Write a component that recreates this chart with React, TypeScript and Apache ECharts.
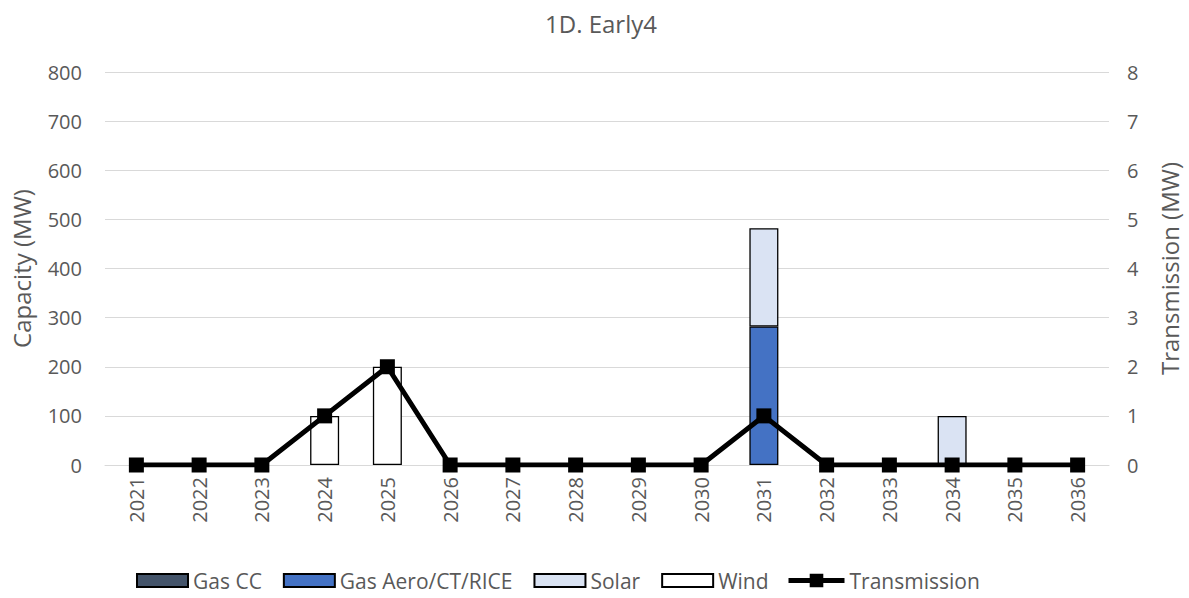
import React, { useEffect, useRef } from "react";
import * as echarts from "echarts";

const years = ["2021","2022","2023","2024","2025","2026","2027","2028","2029","2030","2031","2032","2033","2034","2035","2036"];
const gasCC = [0,0,0,0,0,0,0,0,0,0,0,0,0,0,0,0];
const gasAero = [0,0,0,0,0,0,0,0,0,0,282,0,0,0,0,0];
const solar = [0,0,0,0,0,0,0,0,0,0,200,0,0,100,0,0];
const wind = [0,0,0,100,200,0,0,0,0,0,0,0,0,0,0,0];
const transmission = [0,0,0,1,2,0,0,0,0,0,1,0,0,0,0,0];

const FONT = "Open Sans";
const GREY = "#595959";

const nz = (a: number[]) => a.map((v) => (v === 0 ? null : v));

export default function App() {
  const ref = useRef<HTMLDivElement>(null);
  useEffect(() => {
    if (!ref.current) return;
    const chart = echarts.init(ref.current, undefined, { renderer: "svg" });
    const barBase = (name: string, data: number[], color: string) => ({
      name,
      type: "bar",
      stack: "cap",
      data: nz(data),
      barWidth: 29,
      itemStyle: { color, borderColor: "#000", borderWidth: 1.3 },
    });
    chart.setOption({
      animation: false,
      textStyle: { fontFamily: FONT },
      title: {
        text: "1D. Early4",
        left: 596,
        textAlign: "center",
        top: 6,
        textStyle: { fontFamily: FONT, fontSize: 24, fontWeight: "normal", color: GREY },
      },
      grid: { left: 105, right: 77, top: 72, bottom: 133 },
      legend: [
        {
          data: ["Gas CC", "Gas Aero/CT/RICE", "Solar", "Wind"].map((n) => ({ name: n, icon: "rect" })),
          left: 136,
          top: 570,
          itemWidth: 51,
          itemHeight: 13,
          itemGap: 21,
          padding: 0,
          textStyle: { fontFamily: FONT, fontSize: 21, color: GREY },
        },
        {
          data: ["Transmission"],
          left: 786,
          top: 570,
          itemWidth: 56,
          itemHeight: 17,
          padding: 0,
          lineStyle: { width: 5, color: "#000" },
          textStyle: { fontFamily: FONT, fontSize: 21, color: GREY },
        },
      ],
      xAxis: {
        type: "category",
        data: years,
        boundaryGap: true,
        axisLine: { show: true, lineStyle: { color: "#D9D9D9", width: 1 } },
        axisTick: { show: false },
        axisLabel: { rotate: 90, interval: 0, fontFamily: FONT, fontSize: 20, color: GREY, margin: 12 },
      },
      yAxis: [
        {
          type: "value",
          min: 0,
          max: 800,
          interval: 100,
          name: "Capacity (MW)",
          nameLocation: "middle",
          nameGap: 72,
          nameTextStyle: { fontFamily: FONT, fontSize: 24, color: GREY },
          axisLine: { show: false },
          axisTick: { show: false },
          axisLabel: { fontFamily: FONT, fontSize: 20, color: GREY, margin: 23 },
          splitLine: { lineStyle: { color: "#D9D9D9", width: 1 } },
        },
        {
          type: "value",
          min: 0,
          max: 8,
          interval: 1,
          name: "Transmission (MW)",
          nameLocation: "middle",
          nameGap: 48,
          nameTextStyle: { fontFamily: FONT, fontSize: 24, color: GREY },
          axisLine: { show: false },
          axisTick: { show: false },
          axisLabel: { fontFamily: FONT, fontSize: 20, color: GREY, margin: 18 },
          splitLine: { show: false },
        },
      ],
      series: [
        barBase("Gas CC", gasCC, "#44546A"),
        barBase("Gas Aero/CT/RICE", gasAero, "#4472C4"),
        barBase("Solar", solar, "#DAE3F3"),
        barBase("Wind", wind, "#FFFFFF"),
        {
          name: "Transmission",
          type: "line",
          yAxisIndex: 1,
          data: transmission,
          symbol: "rect",
          symbolSize: 15,
          lineStyle: { color: "#000", width: 5 },
          itemStyle: { color: "#000" },
          z: 5,
        },
      ],
    });
    return () => chart.dispose();
  }, []);
  return <div ref={ref} style={{ width: 1189, height: 598, position: "absolute", left: 0, top: 0 }} />;
}
